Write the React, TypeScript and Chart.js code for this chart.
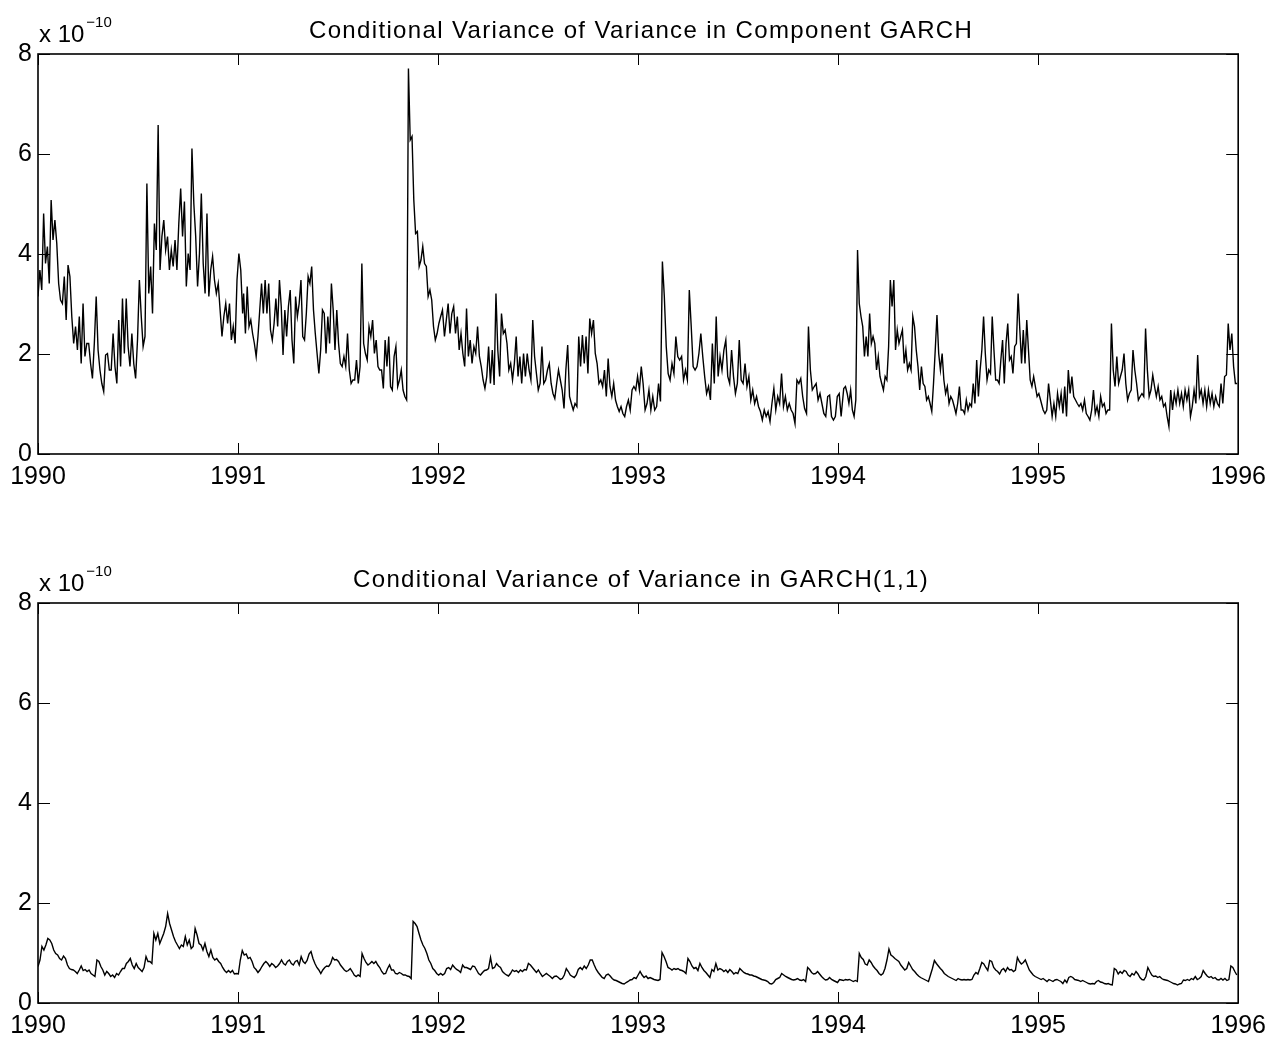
import React, { useEffect, useRef } from "react";
import { Chart, registerables } from "chart.js";

Chart.register(...registerables);

const FONT = '"Liberation Sans", Arial, Helvetica, sans-serif';

// ---- axis ticks ----
const yearTicks = [1990, 1991, 1992, 1993, 1994, 1995, 1996];
const valueTicks = [0, 2, 4, 6, 8];
const exponentText = "x 10";
const exponentPower = "\u221210";

const topTitle = "Conditional Variance of Variance in Component GARCH";
const bottomTitle = "Conditional Variance of Variance in GARCH(1,1)";

// ---- Component GARCH, values in units of 1e-10 ----
const cg1990 = [3.15,3.68,3.28,4.81,3.81,4.15,3.41,5.08,4.28,4.68,4.21,3.41,3.08,3.01,3.55,2.68,3.78,3.55,2.75,2.21,2.55,2.08,2.75,1.81,3.01,1.95,2.21,2.21,1.81,1.51,2.21,3.15,2.08,1.68,1.41,1.25,1.98,2.01,1.68,1.68,2.41,1.75,1.41,2.68,1.75,3.11,2.01,3.11,2.15,1.75,2.41,1.81,1.51,2.28,3.48,2.75,2.15,2.35,5.41,3.21,3.75,2.81,4.61,4.08,6.58,3.68,4.35,4.68,4.08,4.35,3.68,4.08,3.75,4.28,3.68,4.61,5.31,4.35,5.05,3.35,4.01,3.68,6.11,5.01,4.35,3.35,4.01,5.21,3.81,3.21,4.81,3.15,3.68,3.95,3.48,3.21,3.41,2.88,2.35,2.75,3.01,2.61,3.01,2.28,2.55,2.21,3.48,4.01,3.68,2.81];
const cg1991 = [3.21,2.41,3.35,2.55,2.68,2.41,2.21,1.95,2.35,2.88,3.41,2.81,3.48,2.81,3.41,2.48,2.28,2.61,3.11,2.55,3.48,2.95,1.98,2.88,2.35,2.95,3.28,2.28,1.81,3.15,2.75,3.01,3.48,2.35,2.28,2.81,3.55,3.41,3.75,2.88,2.41,2.01,1.61,2.08,2.88,2.81,2.01,2.75,2.21,3.41,2.88,2.08,2.88,2.21,1.81,1.75,1.95,1.75,2.41,1.68,1.41,1.48,1.48,1.88,1.41,1.75,3.81,2.21,2.01,1.88,2.55,2.35,2.68,2.01,2.28,1.75,1.68,1.68,1.31,2.28,1.75,2.35,1.35,1.28,1.95,2.15,1.35,1.48,1.68,1.28,1.15,1.08,7.71,6.28,6.35,5.08,4.41,4.45,3.75,3.88,4.15,3.81,3.75,3.15,3.28,3.08,2.55,2.28,2.41,2.61,2.75,2.88];
const cg1992 = [2.35,2.68,3.01,2.41,2.81,2.95,2.41,2.75,2.08,2.41,2.01,1.75,2.91,1.95,2.28,1.81,2.15,2.01,2.55,1.95,1.75,1.48,1.31,1.55,2.15,1.41,2.08,1.38,3.21,2.08,1.55,2.81,2.41,2.48,2.21,1.68,1.81,1.48,1.81,2.35,1.55,1.95,1.41,2.01,1.55,2.01,1.68,1.48,2.68,1.95,1.61,1.28,1.41,2.15,1.41,1.48,1.68,1.81,1.41,1.21,1.11,1.41,1.68,1.48,1.28,0.91,1.68,2.18,1.15,1.01,0.88,1.01,0.95,2.35,1.75,2.38,1.81,2.35,1.61,2.71,2.41,2.68,2.01,1.81,1.41,1.48,1.35,1.68,1.15,1.91,1.35,1.15,1.41,1.08,0.95,0.85,0.95,0.81,0.75,0.95,1.08,0.88,1.28,1.35,1.28,1.55,1.28,1.75,1.41];
const cg1993 = [0.88,1.01,1.28,0.88,1.15,0.88,0.95,1.41,1.05,3.85,3.15,2.15,1.61,1.48,1.81,1.61,2.35,1.95,1.88,1.95,1.48,1.68,1.48,3.28,2.55,1.75,1.68,1.75,2.01,2.41,1.95,1.55,1.21,1.35,1.08,2.21,1.41,2.75,1.55,1.95,1.68,2.08,2.28,1.55,1.41,2.08,1.55,1.21,1.41,2.28,1.48,1.41,1.81,1.35,1.55,1.08,1.28,1.01,1.15,0.95,0.85,0.68,0.88,0.75,0.85,0.65,1.01,1.31,0.88,1.15,1.01,1.61,0.95,1.15,0.88,1.01,0.88,0.81,0.61,1.48,1.41,1.51,1.15,0.91,0.81,2.55,1.68,1.28,1.35,1.41,1.08,1.21,1.01,0.81,0.75,1.15,1.18,0.75,0.68,0.75,1.15,1.21,0.75];
const cg1994 = [1.31,1.35,1.21,1.01,1.28,0.88,0.75,1.08,4.08,3.01,2.75,2.55,1.95,2.35,1.95,2.81,2.21,2.35,2.21,1.68,1.95,1.55,1.41,1.28,1.55,1.48,2.15,3.48,2.95,3.48,2.08,2.48,2.21,2.35,2.48,1.81,2.08,1.68,1.81,1.68,2.75,2.55,2.08,1.75,1.28,1.75,1.41,1.35,1.08,1.15,1.01,0.85,1.41,2.08,2.78,2.01,1.68,2.01,1.48,1.21,1.35,1.01,1.15,1.08,0.95,0.81,1.01,1.35,0.88,0.88,0.81,1.08,0.88,1.01,0.95,1.41,1.01,1.88,1.15,1.68,2.08,2.75,2.01,1.48,1.68,1.61,2.75,2.08,1.48,1.48,1.41,1.88,2.28,1.41,2.21,2.61,1.88,1.95,1.61,2.15,2.21,3.21,2.48,1.81,2.48,1.81,2.68,2.08,1.48,1.35,1.55,1.35,1.15,1.21,1.08];
const cg1995 = [0.88,0.81,0.88,1.41,1.08,0.75,1.01,0.75,1.21,0.95,1.21,0.81,1.35,0.75,1.68,1.21,1.55,1.15,1.08,1.01,0.95,1.01,0.88,1.08,0.81,0.75,0.68,0.88,1.28,0.81,0.95,0.75,1.15,0.95,1.01,0.81,0.88,0.88,2.61,1.68,1.35,1.95,1.41,1.55,1.68,2.01,1.41,1.08,1.21,1.28,2.08,1.68,1.41,1.08,1.15,1.21,1.15,2.51,1.68,1.15,1.28,1.58,1.35,1.15,1.35,1.08,1.15,0.95,1.01,0.75,0.55,1.28,0.88,1.21,1.01,1.28,1.01,1.21,0.95,1.28,1.08,1.28,0.75,0.95,1.28,1.01,1.98,1.15,1.28,1.01,1.28,0.95,1.28,1.01,1.21,0.95,1.15,1.01,0.95,1.41,1.01,1.55,1.58,2.61,2.08,2.41,1.75,1.41,1.41];
// time span (in years) covered by each of the segments above
const cgSpans = [[1990.0, 1991.023], [1991.028, 1992.022], [1992.032, 1993.025], [1993.035, 1994.015], [1994.028, 1995.012], [1995.025, 1995.995]];

// ---- GARCH(1,1), values in units of 1e-10 ----
const g1990 = [0.73,0.86,1.13,1.06,1.16,1.29,1.26,1.19,1.06,0.99,0.96,0.89,0.86,0.94,0.89,0.76,0.69,0.67,0.66,0.63,0.59,0.66,0.74,0.65,0.67,0.63,0.66,0.59,0.56,0.53,0.86,0.83,0.73,0.66,0.56,0.63,0.59,0.53,0.56,0.51,0.59,0.56,0.63,0.69,0.69,0.79,0.83,0.89,0.76,0.69,0.79,0.71,0.67,0.63,0.71,0.93,0.83,0.83,0.79,1.39,1.26,1.39,1.19,1.29,1.39,1.53,1.79,1.59,1.46,1.33,1.23,1.16,1.09,1.16,1.13,1.33,1.16,1.26,1.09,1.13,1.49,1.36,1.19,1.16,1.06,1.19,1.03,0.93,1.06,0.91,0.86,0.89,0.83,0.79,0.71,0.65,0.61,0.65,0.61,0.65,0.58,0.59,0.58,0.86,1.05,0.96,0.98,0.89,0.91,0.83,0.71,0.67,0.61,0.66,0.73,0.79,0.83,0.79,0.73,0.79,0.76,0.71,0.74,0.79,0.86,0.79,0.76,0.83,0.86,0.79,0.76,0.83,0.85,0.76,0.93,0.83,0.79,0.85,0.98,1.03,0.89,0.79,0.71,0.66,0.59,0.66,0.71,0.74,0.73,0.79,0.91,0.86,0.87,0.83,0.76,0.71,0.66,0.63,0.65,0.69,0.63,0.56,0.53,0.56,0.53,0.99,0.89,0.81,0.76,0.79,0.83,0.79,0.83,0.76,0.71,0.63,0.58,0.59,0.69,0.76,0.66,0.66,0.59,0.58,0.61,0.59,0.56,0.56,0.54,0.53,0.49,1.63,1.59,1.53,1.39,1.26,1.16,1.09,0.99,0.86,0.79,0.69,0.65,0.59,0.56];
const g1992 = [0.59,0.56,0.59,0.69,0.71,0.67,0.76,0.71,0.67,0.65,0.61,0.76,0.71,0.71,0.69,0.67,0.74,0.73,0.66,0.59,0.56,0.61,0.65,0.66,0.69,0.91,0.69,0.71,0.79,0.74,0.71,0.63,0.59,0.56,0.54,0.59,0.66,0.63,0.65,0.61,0.66,0.63,0.67,0.66,0.79,0.76,0.71,0.66,0.61,0.66,0.59,0.53,0.56,0.59,0.56,0.53,0.49,0.53,0.54,0.51,0.47,0.49,0.56,0.69,0.63,0.56,0.53,0.51,0.56,0.67,0.71,0.67,0.74,0.69,0.76,0.86,0.86,0.76,0.67,0.61,0.56,0.51,0.49,0.56,0.58,0.54,0.49,0.46,0.45,0.43,0.41,0.39,0.38,0.41,0.43,0.46,0.47,0.51,0.49,0.56,0.63,0.56,0.51,0.54,0.49,0.51,0.49,0.47,0.46,0.45,0.47,1.01,0.93,0.83,0.71,0.69,0.66,0.69,0.67,0.69,0.66,0.65,0.63,0.59,0.89,0.83,0.74,0.69,0.71,0.65,0.79,0.71,0.65,0.61,0.56,0.51,0.67,0.63,0.79,0.66,0.69,0.67,0.63,0.66,0.61,0.67,0.63,0.58,0.61,0.59,0.69,0.65,0.61,0.59,0.58,0.56,0.56,0.54,0.53,0.51,0.49,0.47,0.46,0.45,0.43,0.39,0.38,0.41,0.47,0.49,0.51,0.59,0.56,0.53,0.51,0.49,0.47,0.46,0.47,0.49,0.46,0.45,0.47,0.43,0.71,0.67,0.61,0.58,0.59,0.63,0.58,0.53,0.49,0.46,0.47,0.51,0.47,0.45,0.43,0.41];
const g1994 = [0.47,0.46,0.45,0.47,0.46,0.47,0.45,0.43,0.45,0.43,0.99,0.91,0.87,0.78,0.76,0.86,0.81,0.74,0.69,0.65,0.59,0.56,0.59,0.69,0.86,1.08,0.96,0.93,0.89,0.86,0.83,0.76,0.71,0.66,0.69,0.81,0.74,0.67,0.63,0.58,0.54,0.51,0.49,0.47,0.45,0.43,0.56,0.69,0.85,0.79,0.74,0.69,0.65,0.59,0.56,0.53,0.51,0.49,0.47,0.45,0.49,0.47,0.46,0.47,0.46,0.47,0.46,0.47,0.56,0.61,0.58,0.69,0.81,0.78,0.71,0.65,0.85,0.83,0.71,0.66,0.63,0.58,0.66,0.69,0.63,0.71,0.66,0.67,0.63,0.66,0.91,0.83,0.78,0.81,0.86,0.76,0.66,0.61,0.56,0.53,0.51,0.49,0.47,0.49,0.46,0.43,0.47,0.45,0.43,0.46,0.47,0.45,0.43,0.39,0.46,0.41,0.51,0.53,0.51,0.47,0.46,0.45,0.43,0.45,0.43,0.41,0.39,0.38,0.39,0.38,0.43,0.45,0.42,0.41,0.39,0.38,0.39,0.37,0.36,0.69,0.66,0.58,0.63,0.59,0.65,0.63,0.56,0.53,0.59,0.56,0.63,0.58,0.51,0.47,0.46,0.53,0.71,0.63,0.56,0.53,0.54,0.51,0.53,0.49,0.47,0.46,0.45,0.43,0.41,0.39,0.38,0.36,0.38,0.39,0.46,0.45,0.47,0.45,0.49,0.47,0.53,0.47,0.49,0.53,0.65,0.59,0.54,0.51,0.53,0.49,0.51,0.47,0.46,0.49,0.46,0.49,0.45,0.47,0.74,0.71,0.63,0.56];
const gSpans = [[1990.0, 1992.003], [1992.013, 1993.997], [1994.007, 1995.993]];

function buildPoints(segments: number[][], spans: number[][]) {
  const pts: { x: number; y: number }[] = [];
  segments.forEach((seg, k) => {
    const [a, b] = spans[k];
    seg.forEach((v, i) => {
      pts.push({ x: a + ((b - a) * i) / (seg.length - 1), y: v });
    });
  });
  return pts;
}

const matlabFrame = {
  id: "matlabFrame",
  afterDatasetsDraw(chart: any, _args: any, opts: any) {
    const { ctx, chartArea, scales } = chart;
    const { left, right, top, bottom } = chartArea;
    const xs = scales.x;
    const ys = scales.y;
    ctx.save();
    ctx.strokeStyle = "#000";
    ctx.lineWidth = 1;
    const tl = 11;
    ctx.beginPath();
    yearTicks.forEach((t) => {
      const px = Math.round(xs.getPixelForValue(t)) + 0.5;
      ctx.moveTo(px, bottom);
      ctx.lineTo(px, bottom - tl);
      ctx.moveTo(px, top);
      ctx.lineTo(px, top + tl);
    });
    valueTicks.forEach((t) => {
      const py = Math.round(ys.getPixelForValue(t)) + 0.5;
      ctx.moveTo(left, py);
      ctx.lineTo(left + tl + 1, py);
      ctx.moveTo(right, py);
      ctx.lineTo(right - tl - 1, py);
    });
    ctx.stroke();
    ctx.lineWidth = 1.6;
    ctx.strokeRect(left, top, right - left, bottom - top);

    ctx.fillStyle = "#000";
    ctx.font = `24px ${FONT}`;
    ctx.textBaseline = "alphabetic";
    ctx.textAlign = "center";
    (ctx as any).letterSpacing = "1.35px";
    ctx.fillText(opts.title, (left + right) / 2 + 3, top - 16);
    (ctx as any).letterSpacing = "0px";

    ctx.textAlign = "left";
    ctx.fillText(exponentText, left + 1, top - 12);
    const w = ctx.measureText(exponentText).width;
    ctx.font = `15px ${FONT}`;
    ctx.fillText(exponentPower, left + 1 + w + 2, top - 27);
    ctx.restore();
  },
};

function Panel(props: { title: string; segments: number[][]; spans: number[][]; top: number }) {
  const ref = useRef<HTMLCanvasElement | null>(null);
  useEffect(() => {
    const canvas = ref.current;
    if (!canvas) return;
    const points = buildPoints(props.segments, props.spans);
    const chart = new Chart(canvas, {
      type: "line",
      data: {
        datasets: [
          {
            data: points,
            borderColor: "#000",
            borderWidth: 1.4,
            pointRadius: 0,
            tension: 0,
            fill: false,
          },
        ],
      },
      options: {
        responsive: false,
        maintainAspectRatio: false,
        animation: false,
        events: [],
        layout: { padding: { top: 54, right: 32, bottom: 16, left: 0 } },
        plugins: {
          legend: { display: false },
          tooltip: { enabled: false },
          title: { display: false },
          matlabFrame: { title: props.title },
        } as any,
        scales: {
          x: {
            type: "linear",
            min: 1990,
            max: 1996,
            afterBuildTicks: (s: any) => {
              s.ticks = yearTicks.map((v) => ({ value: v }));
            },
            ticks: {
              callback: (v: any) => String(v),
              font: { family: FONT, size: 25 },
              color: "#000",
              padding: 8,
              maxRotation: 0,
              autoSkip: false,
            },
            grid: { display: false, drawTicks: false },
            border: { display: false },
            afterFit: (s: any) => {
              s.height = 50;
            },
          },
          y: {
            type: "linear",
            min: 0,
            max: 8,
            afterBuildTicks: (s: any) => {
              s.ticks = valueTicks.map((v) => ({ value: v }));
            },
            ticks: {
              callback: (v: any) => String(v),
              font: { family: FONT, size: 25 },
              color: "#000",
              padding: 6,
            },
            grid: { display: false, drawTicks: false },
            border: { display: false },
            afterFit: (s: any) => {
              s.width = 38;
            },
          },
        },
      },
      plugins: [matlabFrame],
    });
    return () => chart.destroy();
  }, []);
  return (
    <canvas
      ref={ref}
      width={1274}
      height={520}
      style={{ position: "absolute", left: 0, top: props.top, width: 1274, height: 520, display: "block" }}
    />
  );
}

export default function App() {
  return (
    <div
      style={{
        position: "absolute",
        left: 0,
        top: 0,
        width: 1274,
        height: 1040,
        overflow: "hidden",
        background: "#fff",
      }}
    >
      <Panel title={topTitle} segments={[cg1990, cg1991, cg1992, cg1993, cg1994, cg1995]} spans={cgSpans} top={0} />
      <Panel title={bottomTitle} segments={[g1990, g1992, g1994]} spans={gSpans} top={549} />
    </div>
  );
}
